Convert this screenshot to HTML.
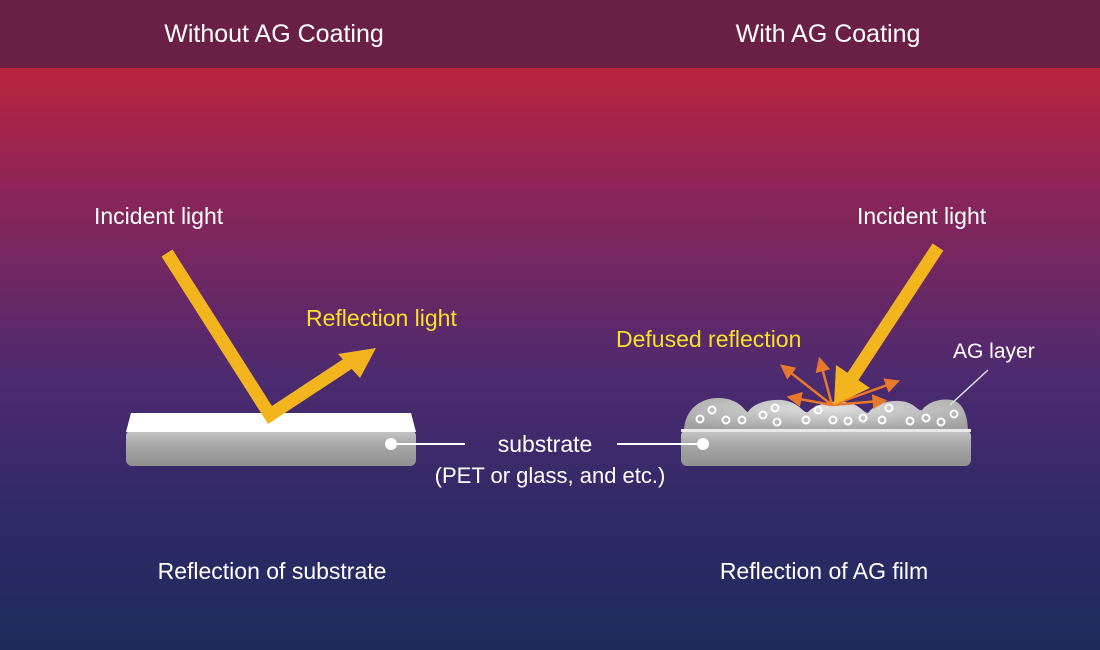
<!DOCTYPE html>
<html><head><meta charset="utf-8"><style>
html,body{margin:0;padding:0;width:1100px;height:650px;overflow:hidden}
svg{display:block}
text{font-family:"Liberation Sans",sans-serif}
</style></head><body>
<svg width="1100" height="650" viewBox="0 0 1100 650">
<defs>
<linearGradient id="bg" x1="0" y1="0" x2="0" y2="1">
<stop offset="0.1" stop-color="#bb243e"/>
<stop offset="0.3" stop-color="#8a2558"/>
<stop offset="0.58" stop-color="#4d2a70"/>
<stop offset="0.8" stop-color="#2e2a66"/>
<stop offset="1" stop-color="#1e2a5c"/>
</linearGradient>
<linearGradient id="body" x1="0" y1="0" x2="0" y2="1">
<stop offset="0" stop-color="#c8c8c8"/><stop offset="0.4" stop-color="#a8a8a8"/><stop offset="1" stop-color="#909090"/>
</linearGradient>
<radialGradient id="bump" cx="0.5" cy="0.3" r="0.7">
<stop offset="0" stop-color="#e0e0e0"/><stop offset="1" stop-color="#a0a0a0"/>
</radialGradient>
<marker id="oa" markerWidth="6" markerHeight="6" refX="3" refY="3" orient="auto" markerUnits="strokeWidth">
<path d="M0,0 L6,3 L0,6 z" fill="#e8782a"/></marker>
</defs>
<rect width="1100" height="650" fill="url(#bg)"/>
<rect width="1100" height="68" fill="#6a1f45"/>
<text x="274" y="42" fill="#fff" font-size="25" text-anchor="middle">Without AG Coating</text>
<text x="828" y="42" fill="#fff" font-size="25" text-anchor="middle">With AG Coating</text>

<!-- left slab -->
<rect x="126" y="430" width="290" height="36" rx="6" fill="url(#body)"/>
<path d="M131,413 L411,413 L416,432 L126,432 Z" fill="#fff"/>
<polyline points="167,253 270,415 352,361" fill="none" stroke="#f2b51e" stroke-width="13" stroke-linejoin="miter"/>
<path d="M376,348 L338,354 L360,378 Z" fill="#f2b51e"/>
<text x="94" y="224" fill="#fff" font-size="23">Incident light</text>
<text x="306" y="326" fill="#f5e02a" font-size="23">Reflection light</text>

<!-- right slab -->
<rect x="681" y="430" width="290" height="36" rx="6" fill="url(#body)"/>
<path d="M684,432 C684,410 700,398 718,398 C740,398 745,412 748,412 C752,405 765,399 782,400 C800,402 803,414 808,412 C815,405 830,400 845,402 C860,404 862,412 868,413 C875,404 888,400 900,401 C915,402 918,412 922,410 C928,402 940,398 952,400 C965,403 968,420 968,432 Z" fill="url(#bump)"/>
<rect x="681" y="429" width="290" height="3" fill="#e8e8e8"/>
<g fill="none" stroke="#fff" stroke-width="2">
<circle cx="700" cy="419" r="3.5"/><circle cx="712" cy="410" r="3.5"/><circle cx="726" cy="420" r="3.5"/><circle cx="742" cy="420" r="3.5"/><circle cx="763" cy="415" r="3.5"/><circle cx="775" cy="408" r="3.5"/><circle cx="777" cy="422" r="3.5"/><circle cx="806" cy="420" r="3.5"/><circle cx="818" cy="410" r="3.5"/><circle cx="833" cy="420" r="3.5"/><circle cx="848" cy="421" r="3.5"/><circle cx="863" cy="418" r="3.5"/><circle cx="882" cy="420" r="3.5"/><circle cx="889" cy="408" r="3.5"/><circle cx="910" cy="421" r="3.5"/><circle cx="926" cy="418" r="3.5"/><circle cx="941" cy="422" r="3.5"/><circle cx="954" cy="414" r="3.5"/>
</g>
<g stroke="#e8782a" stroke-width="2.5" marker-end="url(#oa)">
<line x1="832" y1="405" x2="786" y2="369"/>
<line x1="832" y1="405" x2="821" y2="364"/>
<line x1="832" y1="405" x2="794" y2="398"/>
<line x1="832" y1="405" x2="893" y2="383"/>
<line x1="832" y1="405" x2="880" y2="401"/>
</g>
<line x1="938" y1="247" x2="852" y2="378" stroke="#f2b51e" stroke-width="13"/>
<path d="M834,405 L836,365 L870,388 Z" fill="#f2b51e"/>
<line x1="988" y1="370" x2="950" y2="405" stroke="#ddd" stroke-width="1.5"/>
<text x="857" y="224" fill="#fff" font-size="23">Incident light</text>
<text x="616" y="347" fill="#f5e02a" font-size="23">Defused reflection</text>
<text x="953" y="358" fill="#fff" font-size="21">AG layer</text>

<!-- connector -->
<circle cx="391" cy="444" r="6" fill="#fff"/>
<line x1="391" y1="444" x2="465" y2="444" stroke="#fff" stroke-width="2"/>
<line x1="617" y1="444" x2="703" y2="444" stroke="#fff" stroke-width="2"/>
<circle cx="703" cy="444" r="6" fill="#fff"/>
<text x="545" y="452" fill="#fff" font-size="23" text-anchor="middle">substrate</text>
<text x="550" y="483" fill="#fff" font-size="22" text-anchor="middle">(PET or glass, and etc.)</text>

<text x="272" y="579" fill="#fff" font-size="23" text-anchor="middle">Reflection of substrate</text>
<text x="824" y="579" fill="#fff" font-size="23" text-anchor="middle">Reflection of AG film</text>
</svg>
</body></html>
